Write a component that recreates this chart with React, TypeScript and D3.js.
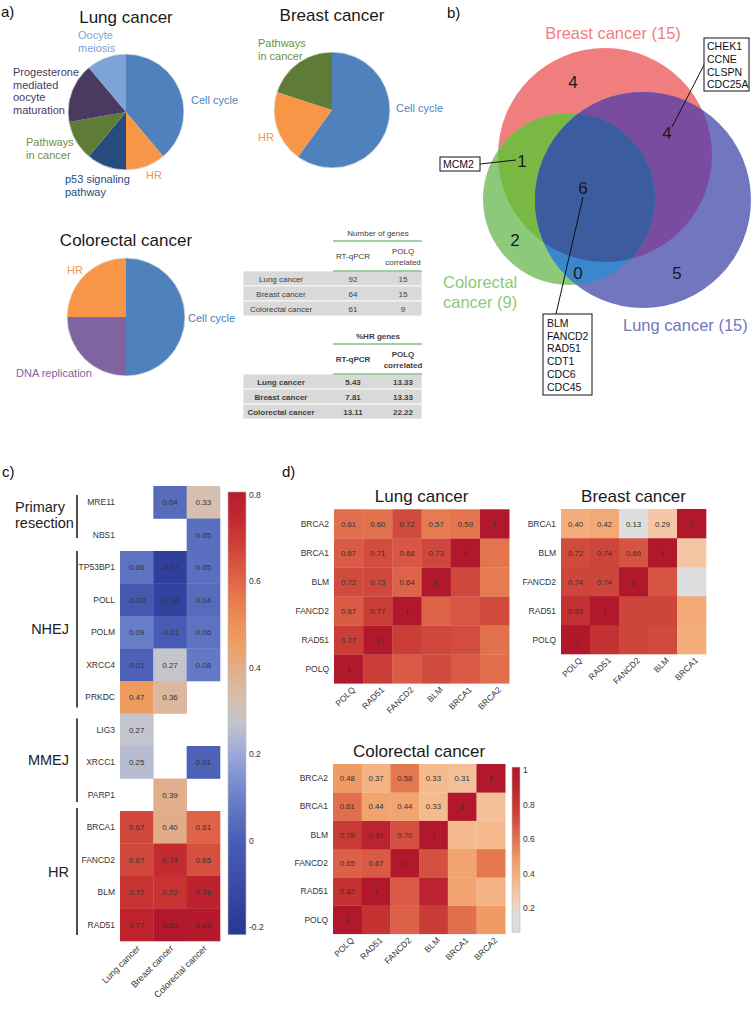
import React from 'react';
import * as d3 from 'd3';

const FONT = "'Liberation Sans', Arial, Helvetica, sans-serif";

// ---------- Panel a: pathway pies ----------
const lungPathways = ["Cell cycle", "HR", "p53 signaling pathway", "Pathways in cancer", "Progesterone mediated oocyte maturation", "Oocyte meiosis"];
const lungPathwayCounts = [7, 2, 2, 2, 3, 2];
const breastPathways = ["Cell cycle", "HR", "Pathways in cancer"];
const breastPathwayCounts = [9, 3, 3];
const colorectalPathways = ["Cell cycle", "DNA replication", "HR"];
const colorectalPathwayCounts = [2, 1, 1];

// ---------- Panel a: tables ----------
const tableCancers = ["Lung cancer", "Breast cancer", "Colorectal cancer"];
const rtqpcrGenes = ["92", "64", "61"];
const polqCorrelatedGenes = ["15", "15", "9"];
const hrPctRtqpcr = ["5.43", "7.81", "13.11"];
const hrPctPolq = ["13.33", "13.33", "22.22"];

// ---------- Panel b: Venn ----------
const vennSetNames = ["Breast cancer (15)", "Colorectal", "cancer (9)", "Lung cancer (15)"];
const vennRegions = ["breastOnly", "breastLung", "breastColorectal", "all", "colorectalOnly", "colorectalLung", "lungOnly"];
const vennRegionCounts = [4, 4, 1, 6, 2, 0, 5];
const breastLungGenes = ["CHEK1", "CCNE", "CLSPN", "CDC25A"];
const breastColorectalGenes = ["MCM2"];
const sharedGenes = ["BLM", "FANCD2", "RAD51", "CDT1", "CDC6", "CDC45"];

// ---------- Panel c ----------
const dsbGenes = ["MRE11", "NBS1", "TP53BP1", "POLL", "POLM", "XRCC4", "PRKDC", "LIG3", "XRCC1", "PARP1", "BRCA1", "FANCD2", "BLM", "RAD51"];
const cancerTypes = ["Lung cancer", "Breast cancer", "Colorectal cancer"];
const lungPolqCorr = [null, null, 0.06, -0.03, 0.09, 0.01, 0.47, 0.27, 0.25, null, 0.67, 0.67, 0.72, 0.77];
const breastPolqCorr = [0.04, null, -0.17, -0.16, -0.01, 0.27, 0.36, null, null, 0.39, 0.40, 0.74, 0.72, 0.83];
const colorectalPolqCorr = [0.33, 0.05, 0.05, 0.04, 0.06, 0.08, null, null, 0.01, null, 0.61, 0.65, 0.78, 0.82];
const repairPathways = ["Primary resection", "NHEJ", "MMEJ", "HR"];
const repairPathwayFirst = ["MRE11", "TP53BP1", "LIG3", "BRCA1"];
const repairPathwayLast = ["NBS1", "PRKDC", "PARP1", "RAD51"];
const cTicks = [0.8, 0.6, 0.4, 0.2, 0, -0.2];

// ---------- Panel d ----------
const lungGenes = ["POLQ", "RAD51", "FANCD2", "BLM", "BRCA1", "BRCA2"];
const lungCorr = [
  [1],
  [0.77, 1],
  [0.67, 0.77, 1],
  [0.72, 0.73, 0.64, 1],
  [0.67, 0.71, 0.68, 0.73, 1],
  [0.61, 0.60, 0.72, 0.57, 0.59, 1],
];
const breastGenes = ["POLQ", "RAD51", "FANCD2", "BLM", "BRCA1"];
const breastCorr = [
  [1],
  [0.83, 1],
  [0.74, 0.74, 1],
  [0.72, 0.74, 0.69, 1],
  [0.40, 0.42, 0.13, 0.29, 1],
];
const colorectalGenes = ["POLQ", "RAD51", "FANCD2", "BLM", "BRCA1", "BRCA2"];
const colorectalCorr = [
  [1],
  [0.82, 1],
  [0.65, 0.67, 1],
  [0.78, 0.91, 0.70, 1],
  [0.61, 0.44, 0.44, 0.33, 1],
  [0.48, 0.37, 0.58, 0.33, 0.31, 1],
];
const dTicks = [1, 0.8, 0.6, 0.4, 0.2];

// ---------- styles ----------
const pathwayColor: Record<string, string> = {
  "Cell cycle": "#4f81bd",
  "HR": "#f79646",
  "p53 signaling pathway": "#274b7e",
  "Pathways in cancer": "#5e7c35",
  "Progesterone mediated oocyte maturation": "#4a3a60",
  "Oocyte meiosis": "#7ea3d6",
  "DNA replication": "#8064a2",
};
const pathwayLabelColor: Record<string, string> = {
  ...pathwayColor,
  "Pathways in cancer": "#71903d",
};

const cScale = d3.scaleLinear<string>()
  .domain([-0.22, -0.1, 0, 0.1, 0.2, 0.27, 0.33, 0.4, 0.47, 0.55, 0.62, 0.68, 0.75, 0.83])
  .range(["#283593", "#3a4ca8", "#4a5db5", "#6a80c9", "#9aa8da", "#c3c4cc", "#d6bfae", "#e3ac88", "#ee9b5e", "#e8804f", "#dc5d45", "#ce4239", "#c2272e", "#b2182b"])
  .clamp(true);
const dScale = d3.scaleLinear<string>()
  .domain([0.06, 0.13, 0.22, 0.29, 0.33, 0.4, 0.48, 0.58, 0.65, 0.72, 0.8, 0.9, 1.0])
  .range(["#dcdcdc", "#dddddd", "#ecd2c0", "#f5c6a4", "#f5ba8e", "#f4ae7c", "#f09a64", "#e5774f", "#dc6148", "#d14a3e", "#c63633", "#bc2430", "#b2182b"])
  .clamp(true);

type PieProps = { names: string[]; counts: number[]; cx: number; cy: number; r: number; title: string; titleY: number; labels: Record<string, { x: number; y: number; lines: string[] }> };

function Pie({ names, counts, cx, cy, r, title, titleY, labels }: PieProps) {
  const arcs = d3.pie<number>().sort(null).value(d => d)(counts);
  const arc = d3.arc<d3.PieArcDatum<number>>().innerRadius(0).outerRadius(r);
  return (
    <g>
      <text x={cx} y={titleY} textAnchor="middle" fontSize={17} fill="#1a1a1a">{title}</text>
      <g transform={`translate(${cx},${cy})`}>
        {arcs.map((a, i) => (
          <path key={i} d={arc(a) || ''} fill={pathwayColor[names[i]]} />
        ))}
        <circle r={r} fill="none" stroke="#e4e4e4" strokeWidth={0.8} />
      </g>
      {names.map((n, i) => {
        const l = labels[n];
        return (
          <text key={i} x={l.x} y={l.y} fontSize={11} fill={pathwayLabelColor[n]}>
            {l.lines.map((t, k) => <tspan key={k} x={l.x} dy={k === 0 ? 0 : 12.7}>{t}</tspan>)}
          </text>
        );
      })}
    </g>
  );
}

function Table({ y0, header, col1, col2, bold }: { y0: number; header: string; col1: string[]; col2: string[]; bold: boolean }) {
  const fw = bold ? 'bold' : 'normal';
  const rowY = d3.scaleBand().domain(tableCancers).range([y0 + 30, y0 + 75]);
  const colX = [281, 353, 403];
  return (
    <g fontSize={8} fill="#404040" fontWeight={fw}>
      <text x={378} y={y0 - 5} textAnchor="middle">{header}</text>
      <line x1={333} x2={422} y1={y0} y2={y0} stroke="#7cc48a" strokeWidth={1.6} />
      <text x={colX[1]} y={y0 + 18} textAnchor="middle">RT-qPCR</text>
      <text x={colX[2]} y={y0 + 13} textAnchor="middle">POLQ</text>
      <text x={colX[2]} y={y0 + 23.5} textAnchor="middle">correlated</text>
      {tableCancers.map((c, i) => (
        <g key={c}>
          <rect x={243} y={rowY(c)!} width={179} height={rowY.bandwidth()} fill="#d9d9d9" stroke="#fff" strokeWidth={0.8} />
          <text x={colX[0]} y={rowY(c)! + rowY.bandwidth() / 2 + 3} textAnchor="middle">{c}</text>
          <text x={colX[1]} y={rowY(c)! + rowY.bandwidth() / 2 + 3} textAnchor="middle">{col1[i]}</text>
          <text x={colX[2]} y={rowY(c)! + rowY.bandwidth() / 2 + 3} textAnchor="middle">{col2[i]}</text>
        </g>
      ))}
      <line x1={333} x2={422} y1={y0 + 30} y2={y0 + 30} stroke="#7cc48a" strokeWidth={1.6} />
    </g>
  );
}

function Venn() {
  const B = { cx: 605, cy: 155, r: 107 };
  const G = { cx: 569, cy: 199, r: 86 };
  const L = { cx: 643, cy: 200, r: 108 };
  const col = {
    breastOnly: "#f07e7f", colorectalOnly: "#8dc97b", lungOnly: "#7276be",
    breastColorectal: "#79b943", breastLung: "#7a4c9f", colorectalLung: "#3a87cd", all: "#3c5ca0",
  };
  const counts: Record<string, number> = {};
  vennRegions.forEach((r, i) => { counts[r] = vennRegionCounts[i]; });
  const numPos: Record<string, [number, number]> = {
    breastOnly: [573, 88], breastLung: [667, 139], breastColorectal: [522, 167], all: [583, 194],
    colorectalOnly: [515, 246], colorectalLung: [578, 279], lungOnly: [677, 279],
  };
  const circ = (c: any, fill: string) => <circle cx={c.cx} cy={c.cy} r={c.r} fill={fill} />;
  return (
    <g>
      <defs>
        <clipPath id="clipB"><circle cx={B.cx} cy={B.cy} r={B.r} /></clipPath>
        <clipPath id="clipG"><circle cx={G.cx} cy={G.cy} r={G.r} /></clipPath>
      </defs>
      {circ(B, col.breastOnly)}
      {circ(G, col.colorectalOnly)}
      {circ(L, col.lungOnly)}
      <g clipPath="url(#clipB)">{circ(G, col.breastColorectal)}</g>
      <g clipPath="url(#clipB)">{circ(L, col.breastLung)}</g>
      <g clipPath="url(#clipG)">{circ(L, col.colorectalLung)}</g>
      <g clipPath="url(#clipB)"><g clipPath="url(#clipG)">{circ(L, col.all)}</g></g>
      {vennRegions.map(r => (
        <text key={r} x={numPos[r][0]} y={numPos[r][1]} textAnchor="middle" fontSize={17} fill="#1a1a1a">{counts[r]}</text>
      ))}
      <text x={613} y={39} textAnchor="middle" fontSize={16.5} fill="#f07e7f">{vennSetNames[0]}</text>
      <text x={443} y={288} fontSize={16.5} fill="#8dc97b">{vennSetNames[1]}</text>
      <text x={443} y={308} fontSize={16.5} fill="#8dc97b">{vennSetNames[2]}</text>
      <text x={623} y={331} fontSize={16.5} fill="#7276be">{vennSetNames[3]}</text>
      {/* callouts */}
      <line x1={705} y1={63} x2={672} y2={127} stroke="#111" strokeWidth={1} />
      <rect x={704} y={38} width={45} height={53} fill="#fff" stroke="#111" strokeWidth={1} />
      {breastLungGenes.map((g, i) => <text key={g} x={707} y={50 + i * 12.8} fontSize={10.5} fill="#111">{g}</text>)}
      <line x1={480} y1={164} x2={516} y2={160} stroke="#111" strokeWidth={1} />
      <rect x={440} y={157} width={40} height={14} fill="#fff" stroke="#111" strokeWidth={1} />
      {breastColorectalGenes.map(g => <text key={g} x={443} y={168} fontSize={10.5} fill="#111">{g}</text>)}
      <line x1={556} y1={314} x2={583} y2={197} stroke="#111" strokeWidth={1} />
      <rect x={543} y={314} width={49} height={81} fill="#fff" stroke="#111" strokeWidth={1} />
      {sharedGenes.map((g, i) => <text key={g} x={547} y={327 + i * 12.7} fontSize={10.5} fill="#111">{g}</text>)}
    </g>
  );
}

function PanelC() {
  const x = d3.scaleBand().domain(cancerTypes).range([120, 220]);
  const y = d3.scaleBand().domain(dsbGenes).range([486, 941]);
  const series = [lungPolqCorr, breastPolqCorr, colorectalPolqCorr];
  const cy = d3.scaleLinear().domain([-0.2, 0.8]).range([927, 495]);
  const barMin = -0.218, barMax = 0.807;
  const stops = d3.range(0, 1.0001, 0.02).map(t => ({ t, c: cScale(barMax - t * (barMax - barMin)) }));
  return (
    <g>
      <defs>
        <linearGradient id="cgrad" x1="0" x2="0" y1="0" y2="1">
          {stops.map((s, i) => <stop key={i} offset={s.t} stopColor={s.c} />)}
        </linearGradient>
      </defs>
      {series.map((vals, ci) => vals.map((v, ri) => v === null ? null : (
        <g key={`${ci}-${ri}`}>
          <rect x={x(cancerTypes[ci])!} y={y(dsbGenes[ri])!} width={x.bandwidth() + 0.3} height={y.bandwidth() + 0.3} fill={cScale(v)} />
          <text x={x(cancerTypes[ci])! + x.bandwidth() / 2} y={y(dsbGenes[ri])! + y.bandwidth() / 2 + 3} textAnchor="middle" fontSize={8} fill="#333">{v.toFixed(2)}</text>
        </g>
      )))}
      {dsbGenes.map(g => (
        <text key={g} x={115} y={y(g)! + y.bandwidth() / 2 + 3} textAnchor="end" fontSize={8.5} fill="#333">{g}</text>
      ))}
      {cancerTypes.map(c => (
        <text key={c} transform={`translate(${x(c)! + x.bandwidth() / 2 + 4},${949}) rotate(-45)`} textAnchor="end" fontSize={9} fill="#333">{c}</text>
      ))}
      {repairPathways.map((p, i) => {
        const y1 = y(repairPathwayFirst[i])! + (i === 0 ? 9 : 0);
        const y2 = y(repairPathwayLast[i])! + y.bandwidth() - (i === 0 ? 13 : i === 2 ? 9 : 6);
        const yy1 = i === 2 ? y1 + 5 : i === 3 ? y1 - 3 : y1;
        const mid = (y1 + y2) / 2;
        return (
          <g key={p}>
            <line x1={77} x2={77} y1={yy1} y2={y2} stroke="#111" strokeWidth={1.5} />
            {i === 0 ? (
              <text x={15} y={mid} fontSize={14.5} fill="#222">
                <tspan x={15} dy={-5}>Primary</tspan>
                <tspan x={15} dy={16}>resection</tspan>
              </text>
            ) : (
              <text x={69} y={(yy1 + y2) / 2 + 5} textAnchor="end" fontSize={14.5} fill="#222">{p}</text>
            )}
          </g>
        );
      })}
      <rect x={228} y={cy(barMax)} width={18} height={cy(barMin) - cy(barMax)} fill="url(#cgrad)" stroke="#bbb" strokeWidth={0.6} />
      {cTicks.map(t => (
        <text key={t} x={249} y={cy(t) + 3} fontSize={8.5} fill="#333">{String(t)}</text>
      ))}
    </g>
  );
}

function CorrHeatmap({ genes, corr, x0, y0, cw, ch, title }: { genes: string[]; corr: number[][]; x0: number; y0: number; cw: number; ch: number; title: string }) {
  const n = genes.length;
  const x = d3.scaleBand().domain(genes).range([x0, x0 + n * cw]);
  const y = d3.scaleBand().domain([...genes].reverse()).range([y0, y0 + n * ch]);
  const val = (i: number, j: number) => (i >= j ? corr[i][j] : corr[j][i]);
  const cells: any[] = [];
  genes.forEach((rg, i) => genes.forEach((cg, j) => {
    const v = val(i, j);
    cells.push(
      <g key={`${i}-${j}`}>
        <rect x={x(cg)!} y={y(rg)!} width={cw + 0.3} height={ch + 0.3} fill={dScale(v)} />
        {j <= i && (
          <text x={x(cg)! + cw / 2} y={y(rg)! + ch / 2 + 3} textAnchor="middle" fontSize={7.8} fill="#333">{v === 1 ? '1' : v.toFixed(2)}</text>
        )}
      </g>
    );
  }));
  return (
    <g>
      <text x={x0 + n * cw / 2} y={y0 - 7} textAnchor="middle" fontSize={17} fill="#1a1a1a">{title}</text>
      {cells}
      {genes.map(g => (
        <text key={'r' + g} x={x0 - 5} y={y(g)! + ch / 2 + 3} textAnchor="end" fontSize={8.5} fill="#333">{g}</text>
      ))}
      {genes.map(g => (
        <text key={'c' + g} transform={`translate(${x(g)! + cw / 2 + 7},${y0 + n * ch + 7}) rotate(-45)`} textAnchor="end" fontSize={8.5} fill="#333">{g}</text>
      ))}
    </g>
  );
}

function DColorbar() {
  const cy = d3.scaleLinear().domain([0.2, 1]).range([908, 770]);
  const barMin = 0.06, barMax = 1.017;
  const stops = d3.range(0, 1.0001, 0.02).map(t => ({ t, c: dScale(barMax - t * (barMax - barMin)) }));
  return (
    <g>
      <defs>
        <linearGradient id="dgrad" x1="0" x2="0" y1="0" y2="1">
          {stops.map((s, i) => <stop key={i} offset={s.t} stopColor={s.c} />)}
        </linearGradient>
      </defs>
      <rect x={512} y={cy(barMax)} width={8} height={cy(barMin) - cy(barMax)} fill="url(#dgrad)" stroke="#bbb" strokeWidth={0.6} />
      {dTicks.map(t => (
        <text key={t} x={523} y={cy(t) + 3} fontSize={8.5} fill="#333">{String(t)}</text>
      ))}
    </g>
  );
}

export default function App() {
  const lungLabels = {
    "Cell cycle": { x: 191, y: 104, lines: ["Cell cycle"] },
    "HR": { x: 146, y: 179, lines: ["HR"] },
    "p53 signaling pathway": { x: 65, y: 183, lines: ["p53 signaling", "pathway"] },
    "Pathways in cancer": { x: 26, y: 146, lines: ["Pathways", "in cancer"] },
    "Progesterone mediated oocyte maturation": { x: 13, y: 76, lines: ["Progesterone", "mediated", "oocyte", "maturation"] },
    "Oocyte meiosis": { x: 78, y: 39, lines: ["Oocyte", "meiosis"] },
  };
  const breastLabels = {
    "Cell cycle": { x: 396, y: 112, lines: ["Cell cycle"] },
    "HR": { x: 258, y: 141, lines: ["HR"] },
    "Pathways in cancer": { x: 258, y: 47, lines: ["Pathways", "in cancer"] },
  };
  const colorectalLabels = {
    "Cell cycle": { x: 188, y: 322, lines: ["Cell cycle"] },
    "HR": { x: 67, y: 274, lines: ["HR"] },
    "DNA replication": { x: 16, y: 377, lines: ["DNA replication"] },
  };
  return (
    <svg width={754} height={1009} style={{ position: 'absolute', left: 0, top: 0, background: '#fff' }} fontFamily={FONT}>
      <rect width={754} height={1009} fill="#fff" />
      <text x={1} y={17} fontSize={15} fill="#111">a)</text>
      <text x={447} y={18} fontSize={15} fill="#111">b)</text>
      <text x={2} y={477} fontSize={15} fill="#111">c)</text>
      <text x={282} y={477} fontSize={15} fill="#111">d)</text>

      <Pie names={lungPathways} counts={lungPathwayCounts} cx={126} cy={112} r={58} title="Lung cancer" titleY={23} labels={lungLabels} />
      <Pie names={breastPathways} counts={breastPathwayCounts} cx={332} cy={110} r={58} title="Breast cancer" titleY={21} labels={breastLabels} />
      <Pie names={colorectalPathways} counts={colorectalPathwayCounts} cx={126} cy={317} r={59} title="Colorectal cancer" titleY={246} labels={colorectalLabels} />

      <Table y0={241} header="Number of genes" col1={rtqpcrGenes} col2={polqCorrelatedGenes} bold={false} />
      <Table y0={344} header="%HR genes" col1={hrPctRtqpcr} col2={hrPctPolq} bold={true} />

      <Venn />
      <PanelC />

      <CorrHeatmap genes={lungGenes} corr={lungCorr} x0={334} y0={509.3} cw={29.2} ch={29} title="Lung cancer" />
      <CorrHeatmap genes={breastGenes} corr={breastCorr} x0={561} y0={509} cw={29} ch={29} title="Breast cancer" />
      <CorrHeatmap genes={colorectalGenes} corr={colorectalCorr} x0={333} y0={764} cw={28.7} ch={28.3} title="Colorectal cancer" />
      <DColorbar />
    </svg>
  );
}
